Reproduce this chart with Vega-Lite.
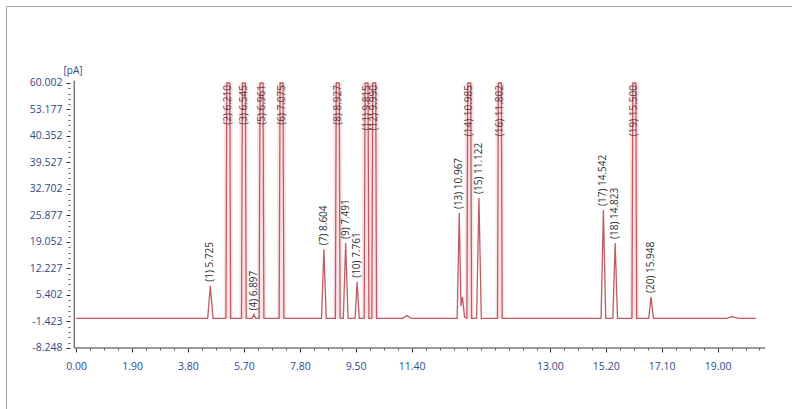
{
  "$schema": "https://vega.github.io/schema/vega-lite/v6.json",
  "width": 786,
  "height": 403,
  "autosize": "none",
  "padding": {"left": 6, "top": 6, "right": 0, "bottom": 0},
  "background": "white",
  "config": {
    "font": "Open Sans",
    "view": {"stroke": "#a8a8a8", "strokeWidth": 1, "strokeDash": [786, 1189, 403]},
    "axis": {"grid": false, "domain": false, "labelFlush": false, "labelOverlap": false}
  },
  "datasets": {
    "trace": [
      {"t": 0, "v": -0.6},
      {"t": 4.47, "v": -0.6}, {"t": 4.56, "v": 7.8}, {"t": 4.65, "v": -0.6},
      {"t": 5.09, "v": -0.6}, {"t": 5.12, "v": 60.002}, {"t": 5.22, "v": 60.002}, {"t": 5.25, "v": -0.6},
      {"t": 5.62, "v": -0.6}, {"t": 5.65, "v": 60.002}, {"t": 5.75, "v": 60.002}, {"t": 5.78, "v": -0.6},
      {"t": 5.98, "v": -0.6}, {"t": 6.04, "v": 0.4}, {"t": 6.1, "v": -0.6},
      {"t": 6.22, "v": -0.6}, {"t": 6.25, "v": 60.002}, {"t": 6.35, "v": 60.002}, {"t": 6.38, "v": -0.6},
      {"t": 6.9, "v": -0.6}, {"t": 6.93, "v": 60.002}, {"t": 7.03, "v": 60.002}, {"t": 7.06, "v": -0.6},
      {"t": 8.34, "v": -0.6}, {"t": 8.42, "v": 17.2}, {"t": 8.5, "v": -0.6},
      {"t": 8.81, "v": -0.6}, {"t": 8.84, "v": 60.002}, {"t": 8.94, "v": 60.002}, {"t": 8.97, "v": -0.6},
      {"t": 9.08, "v": -0.6}, {"t": 9.16, "v": 18.8}, {"t": 9.24, "v": -0.6},
      {"t": 9.48, "v": -0.6}, {"t": 9.55, "v": 8.8}, {"t": 9.62, "v": -0.6},
      {"t": 9.79, "v": -0.6}, {"t": 9.82, "v": 60.002}, {"t": 9.92, "v": 60.002}, {"t": 9.95, "v": -0.6},
      {"t": 10.05, "v": -0.6}, {"t": 10.08, "v": 60.002}, {"t": 10.18, "v": 60.002}, {"t": 10.21, "v": -0.6},
      {"t": 11.1, "v": -0.6}, {"t": 11.24, "v": 0.1}, {"t": 11.38, "v": -0.6},
      {"t": 12.95, "v": -0.6}, {"t": 13.02, "v": 26.5}, {"t": 13.08, "v": 2.5}, {"t": 13.13, "v": 4.9}, {"t": 13.2, "v": -0.3},
      {"t": 13.28, "v": -0.6}, {"t": 13.31, "v": 60.002}, {"t": 13.41, "v": 60.002}, {"t": 13.44, "v": -0.6},
      {"t": 13.61, "v": -0.6}, {"t": 13.69, "v": 30.4}, {"t": 13.77, "v": -0.6},
      {"t": 14.32, "v": -0.6}, {"t": 14.35, "v": 60.002}, {"t": 14.45, "v": 60.002}, {"t": 14.48, "v": -0.6},
      {"t": 17.84, "v": -0.6}, {"t": 17.92, "v": 27.3}, {"t": 18.0, "v": -0.6},
      {"t": 18.24, "v": -0.6}, {"t": 18.32, "v": 18.8}, {"t": 18.4, "v": -0.6},
      {"t": 18.89, "v": -0.6}, {"t": 18.92, "v": 60.002}, {"t": 19.02, "v": 60.002}, {"t": 19.05, "v": -0.6},
      {"t": 19.46, "v": -0.6}, {"t": 19.54, "v": 4.9}, {"t": 19.62, "v": -0.6},
      {"t": 22.1, "v": -0.6}, {"t": 22.3, "v": -0.2}, {"t": 22.5, "v": -0.6},
      {"t": 23.1, "v": -0.6}
    ],
    "peaks": [
      {"t": 4.56, "h": 7.8, "tall": false, "label": "(1) 5.725"},
      {"t": 5.17, "h": 60.002, "tall": true, "label": "(2) 6.210"},
      {"t": 5.7, "h": 60.002, "tall": true, "label": "(3) 6.545"},
      {"t": 6.04, "h": 0.4, "tall": false, "label": "(4) 6.897"},
      {"t": 6.3, "h": 60.002, "tall": true, "label": "(5) 6.961"},
      {"t": 6.98, "h": 60.002, "tall": true, "label": "(6) 7.075"},
      {"t": 8.42, "h": 17.2, "tall": false, "label": "(7) 8.604"},
      {"t": 8.89, "h": 60.002, "tall": true, "label": "(8) 8.927"},
      {"t": 9.16, "h": 18.8, "tall": false, "label": "(9) 7.491"},
      {"t": 9.55, "h": 8.8, "tall": false, "label": "(10) 7.761"},
      {"t": 9.87, "h": 60.002, "tall": true, "label": "(11) 9.815"},
      {"t": 10.13, "h": 60.002, "tall": true, "label": "(12) 9.990"},
      {"t": 13.02, "h": 26.5, "tall": false, "label": "(13) 10.967"},
      {"t": 13.36, "h": 60.002, "tall": true, "label": "(14) 10.985"},
      {"t": 13.69, "h": 30.4, "tall": false, "label": "(15) 11.122"},
      {"t": 14.4, "h": 60.002, "tall": true, "label": "(16) 11.802"},
      {"t": 17.92, "h": 27.3, "tall": false, "label": "(17) 14.542"},
      {"t": 18.32, "h": 18.8, "tall": false, "label": "(18) 14.823"},
      {"t": 18.97, "h": 60.002, "tall": true, "label": "(19) 15.500"},
      {"t": 19.54, "h": 4.9, "tall": false, "label": "(20) 15.948"}
    ],
    "axislines": [
      {"x": -0.067, "x2": -0.067, "y": -8.248, "y2": 60.6},
      {"x": -0.067, "x2": 23.42, "y": -8.248, "y2": -8.248}
    ]
  },
  "resolve": {"axis": {"x": "independent", "y": "independent"}},
  "layer": [
    {
      "data": {"name": "peaks"},
      "transform": [{"filter": "datum.tall"}],
      "mark": {"type": "bar", "width": 9, "color": "#f9dde0", "opacity": 0.8},
      "encoding": {
        "x": {"field": "t", "type": "quantitative", "scale": {"domain": [-2.215, 24.16], "zero": false, "nice": false}, "axis": null},
        "y": {"datum": 60.002, "type": "quantitative", "scale": {"domain": [-23.96, 79.83], "zero": false, "nice": false}, "axis": null},
        "y2": {"datum": -0.6}
      }
    },
    {
      "data": {"name": "axislines"},
      "mark": {"type": "rule", "color": "#3a3a3a", "strokeWidth": 1},
      "encoding": {
        "x": {
          "field": "x", "type": "quantitative",
          "scale": {"domain": [-2.215, 24.16], "zero": false, "nice": false},
          "axis": {
            "orient": "bottom", "offset": -61, "title": null, "labels": false,
            "tickSize": 2, "tickColor": "#555",
            "values": [0.475, 0.95, 1.425, 2.375, 2.85, 3.325, 4.275, 4.75, 5.225, 6.175, 6.65, 7.125, 8.075, 8.55, 9.025, 9.975, 10.45, 10.925, 11.875, 12.35, 12.825, 13.3, 13.775, 14.25, 14.725, 15.2, 15.675, 16.575, 17.05, 17.525, 18.475, 18.95, 19.425, 20.375, 20.85, 21.325, 22.275, 22.75, 23.225]
          }
        },
        "x2": {"field": "x2"},
        "y": {
          "field": "y", "type": "quantitative",
          "scale": {"domain": [-23.96, 79.83], "zero": false, "nice": false},
          "axis": {
            "orient": "left", "offset": -64, "title": null, "labels": false,
            "tickSize": 2, "tickColor": "#555",
            "values": [-6.883, -5.518, -4.153, -2.788, 0.0, 1.307, 2.672, 4.037, 6.767, 8.132, 9.497, 10.862, 13.592, 14.957, 16.322, 17.687, 20.417, 21.782, 23.147, 24.512, 27.242, 28.607, 29.972, 31.337, 34.067, 35.432, 36.797, 38.162, 40.892, 42.257, 43.622, 44.987, 47.717, 49.082, 50.447, 51.812, 54.542, 55.907, 57.272, 58.637]
          }
        },
        "y2": {"field": "y2"}
      }
    },
    {
      "data": {"name": "trace"},
      "mark": {"type": "line", "color": "#c45a61", "strokeWidth": 1.3},
      "encoding": {
        "x": {
          "field": "t", "type": "quantitative",
          "scale": {"domain": [-2.215, 24.16], "zero": false, "nice": false},
          "axis": {
            "orient": "bottom", "offset": -61, "title": null,
            "values": [0, 1.9, 3.8, 5.7, 7.6, 9.5, 11.4, 16.1, 18.0, 19.9, 21.8],
            "labelExpr": "datum.value > 21 ? '19.00' : datum.value > 19 ? '17.10' : datum.value > 17 ? '15.20' : datum.value > 15 ? '13.00' : (datum.value > 7 && datum.value < 8) ? '7.80' : format(datum.value, '.2f')",
            "tickSize": 4, "tickColor": "#333",
            "labelPadding": 9, "labelFontSize": 10.5, "labelColor": "#2e4a8e"
          }
        },
        "y": {
          "field": "v", "type": "quantitative",
          "scale": {"domain": [-23.96, 79.83], "zero": false, "nice": false},
          "axis": {
            "orient": "left", "offset": -64,
            "values": [-8.248, -1.423, 5.402, 12.227, 19.052, 25.877, 32.702, 39.527, 46.352, 53.177, 60.002],
            "labelExpr": "abs(datum.value - 46.352) < 0.01 ? '40.352' : replace(format(datum.value, '.3f'), '\u2212', '-')",
            "tickSize": 4, "tickColor": "#333",
            "labelPadding": 4, "labelFontSize": 10.5, "labelColor": "#2e4a8e",
            "title": "[pA]", "titleAngle": 0, "titleAlign": "left", "titleBaseline": "middle",
            "titleX": -7, "titleY": 64, "titleFontSize": 10, "titleFontWeight": "normal", "titleColor": "#2e4a8e"
          }
        }
      }
    },
    {
      "data": {"name": "peaks"},
      "transform": [{"filter": "!datum.tall"}],
      "mark": {"type": "text", "angle": 270, "align": "left", "baseline": "middle", "dx": 4, "fontSize": 10, "color": "#333333"},
      "encoding": {
        "x": {"field": "t", "type": "quantitative", "scale": {"domain": [-2.215, 24.16], "zero": false, "nice": false}, "axis": null},
        "y": {"field": "h", "type": "quantitative", "scale": {"domain": [-23.96, 79.83], "zero": false, "nice": false}, "axis": null},
        "text": {"field": "label"}
      }
    },
    {
      "data": {"name": "peaks"},
      "transform": [{"filter": "datum.tall"}],
      "mark": {"type": "text", "angle": 270, "align": "right", "baseline": "middle", "dx": -2, "fontSize": 10, "color": "#3a2a2a", "opacity": 0.8},
      "encoding": {
        "x": {"field": "t", "type": "quantitative", "scale": {"domain": [-2.215, 24.16], "zero": false, "nice": false}, "axis": null},
        "y": {"datum": 60.002, "type": "quantitative", "scale": {"domain": [-23.96, 79.83], "zero": false, "nice": false}, "axis": null},
        "text": {"field": "label"}
      }
    }
  ]
}
